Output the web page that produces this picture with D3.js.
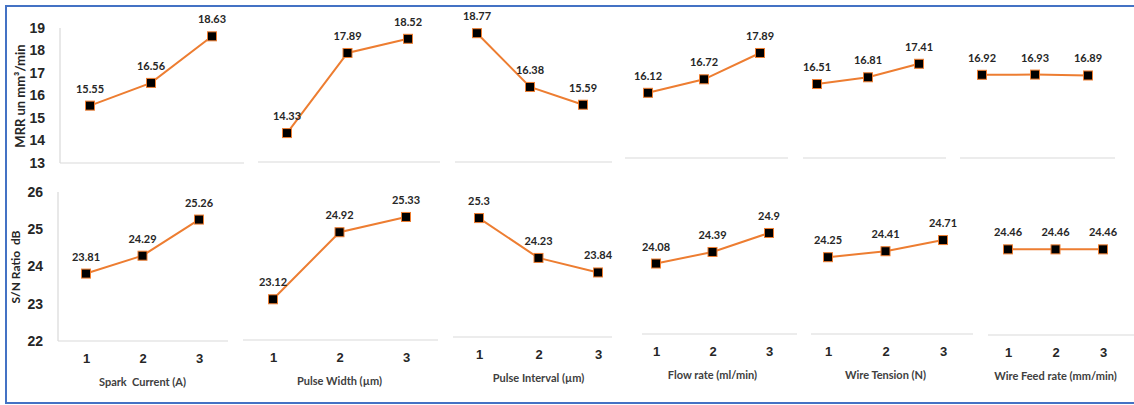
<!DOCTYPE html>
<html>
<head>
<meta charset="utf-8">
<script src="https://cdn.jsdelivr.net/npm/d3@7"></script>
<style>
  body { margin: 0; background: #fff; }
  svg { display: block; font-family: Lato, "Open Sans", sans-serif; }
  text { white-space: pre; }
</style>
</head>
<body>
<svg id="chart-svg" width="1134" height="405"></svg>
<script>
// factors and level labels
const factors = ["Spark  Current (A)", "Pulse Width (\u00b5m)", "Pulse Interval (\u00b5m)",
                 "Flow rate (ml/min)", "Wire Tension (N)", "Wire Feed rate (mm/min)"];
const levels = [1, 2, 3];

// mean MRR for each factor level
const mrrValues = [
  [15.55, 16.56, 18.63],
  [14.33, 17.89, 18.52],
  [18.77, 16.38, 15.59],
  [16.12, 16.72, 17.89],
  [16.51, 16.81, 17.41],
  [16.92, 16.93, 16.89]
];
// mean S/N ratio for each factor level
const snValues = [
  [23.81, 24.29, 25.26],
  [23.12, 24.92, 25.33],
  [25.3, 24.23, 23.84],
  [24.08, 24.39, 24.9],
  [24.25, 24.41, 24.71],
  [24.46, 24.46, 24.46]
];

const mrrTicks = [13, 14, 15, 16, 17, 18, 19];
const snTicks = [22, 23, 24, 25, 26];

const svg = d3.select("#chart-svg");
const lineColor = "#ed7d31";
const textColor = "#262626";
const gridColor = "#d9d9d9";

// outer frame of the picture
svg.append("rect")
  .attr("x", 6).attr("y", 6).attr("width", 1140).attr("height", 397)
  .attr("fill", "none").attr("stroke", "#4472c4").attr("stroke-width", 2);

// rows: pixel layout of each of the six small panels
const rows = [
  {
    values: mrrValues, ticks: mrrTicks, domain: [13, 19], yRange: [163, 28],
    frames: [[60, 244], [258, 440], [455, 612], [625, 788], [803, 946], [960, 1115]],
    bottoms: [163, 162, 162, 158, 158, 158],
    xRanges: [[90, 212], [287, 408], [477, 583], [648, 760], [817, 919], [982, 1088]],
    leftLine: 60, axisX: 48, title: "MRR un mm\u00b3/min", titleX: 20, titleY: 96, titleSize: 13,
    showX: false
  },
  {
    values: snValues, ticks: snTicks, domain: [22, 26], yRange: [341, 192],
    frames: [[58, 228], [243, 438], [453, 612], [642, 797], [811, 973], [988, 1134]],
    bottoms: [341, 340, 337, 334, 334, 335],
    xRanges: [[86, 199], [273, 406], [479, 598], [656, 769], [828, 943], [1008, 1103]],
    leftLine: 58, axisX: 46, title: "S/N Ratio  dB", titleX: 16, titleY: 267, titleSize: 12,
    showX: true
  }
];

rows.forEach(row => {
  const y = d3.scaleLinear().domain(row.domain).range(row.yRange);

  // y axis
  const yAxis = svg.append("g")
    .attr("transform", `translate(${row.axisX},0)`)
    .call(d3.axisLeft(y).tickValues(row.ticks).tickFormat(d3.format("d")).tickSize(0).tickPadding(3));
  yAxis.select(".domain").remove();
  yAxis.selectAll("text")
    .attr("fill", textColor)
    .style("font-size", "14px")
    .style("font-weight", "bold");

  // y title
  svg.append("text")
    .attr("transform", `translate(${row.titleX},${row.titleY}) rotate(-90)`)
    .attr("text-anchor", "middle")
    .attr("dy", "0.35em")
    .attr("fill", textColor)
    .style("font-size", row.titleSize + "px")
    .style("font-weight", "bold")
    .text(row.title);

  // left panel edge
  svg.append("line")
    .attr("x1", row.leftLine).attr("x2", row.leftLine)
    .attr("y1", row.yRange[1]).attr("y2", row.bottoms[0])
    .attr("stroke", gridColor).attr("stroke-width", 1.2);

  row.values.forEach((vals, i) => {
    const x = d3.scalePoint().domain(levels).range(row.xRanges[i]);
    const bottom = row.bottoms[i];
    const pts = levels.map((l, j) => ({ level: l, value: vals[j] }));

    // panel base line
    svg.append("line")
      .attr("x1", row.frames[i][0]).attr("x2", row.frames[i][1])
      .attr("y1", bottom).attr("y2", bottom)
      .attr("stroke", gridColor).attr("stroke-width", 1.2);

    if (row.showX) {
      const xAxis = svg.append("g")
        .attr("transform", `translate(0,${bottom})`)
        .call(d3.axisBottom(x).tickSize(0).tickPadding(13));
      xAxis.select(".domain").remove();
      xAxis.selectAll("text")
        .attr("fill", textColor)
        .style("font-size", "13px")
        .style("font-weight", "bold");

      svg.append("text")
        .attr("x", x(2))
        .attr("y", bottom + 45)
        .attr("text-anchor", "middle")
        .attr("fill", "#404040")
        .style("font-size", "11px")
        .style("font-weight", "bold")
        .text(factors[i]);
    }

    // effect line
    svg.append("path")
      .datum(pts)
      .attr("fill", "none")
      .attr("stroke", lineColor)
      .attr("stroke-width", 2)
      .attr("d", d3.line().x(d => x(d.level)).y(d => y(d.value)));

    // markers
    svg.selectAll(null)
      .data(pts)
      .enter()
      .append("rect")
      .attr("x", d => x(d.level) - 4.5)
      .attr("y", d => y(d.value) - 4.5)
      .attr("width", 9).attr("height", 9)
      .attr("fill", "#000")
      .attr("stroke", lineColor)
      .attr("stroke-width", 1);

    // value labels
    svg.selectAll(null)
      .data(pts)
      .enter()
      .append("text")
      .attr("x", d => x(d.level))
      .attr("y", d => y(d.value) - 13)
      .attr("text-anchor", "middle")
      .attr("fill", textColor)
      .style("font-size", "11px")
      .style("font-weight", "bold")
      .text(d => d.value);
  });
});
</script>
</body>
</html>
